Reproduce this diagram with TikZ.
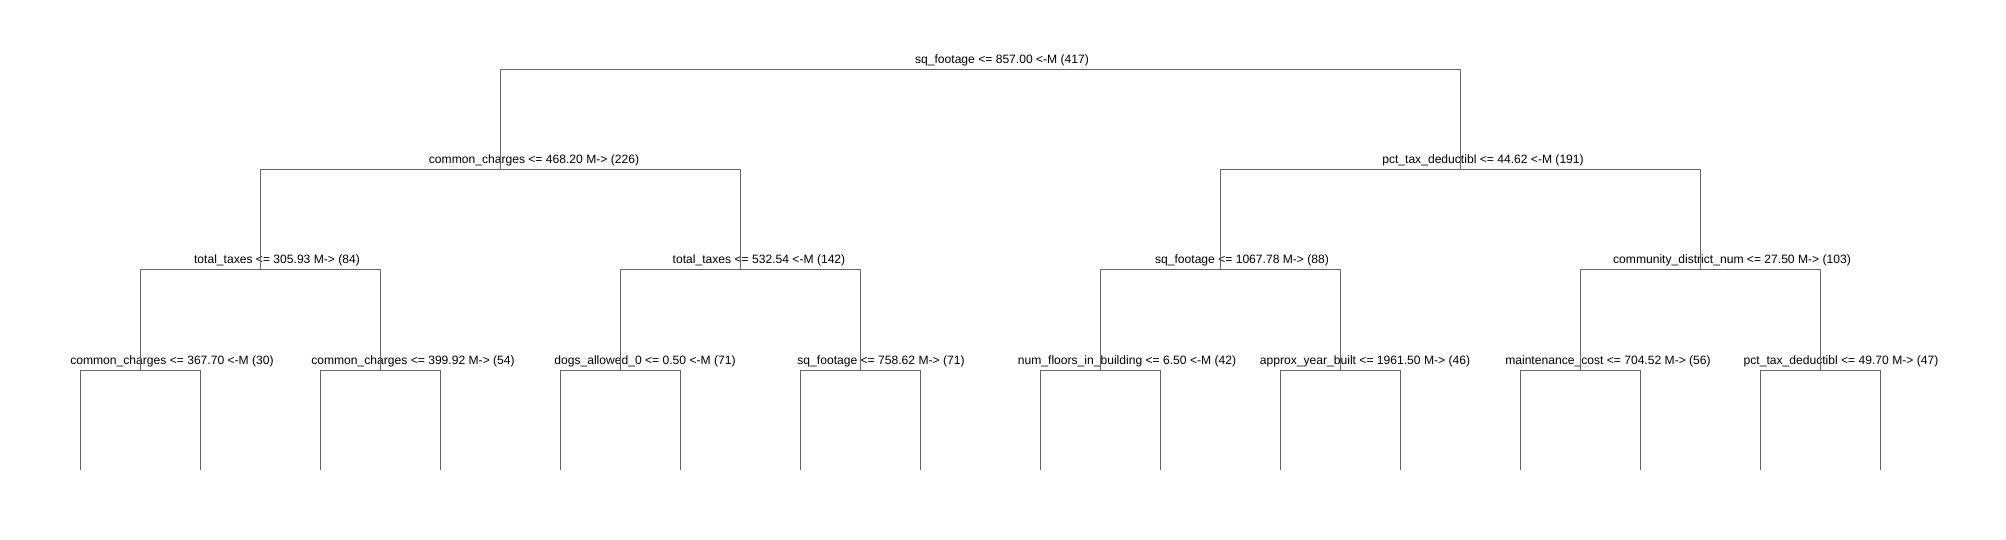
\documentclass[tikz,border=0pt]{standalone}
\usepackage{fontspec}
\setmainfont{Liberation Sans}
\usepackage{tikz}
\usetikzlibrary{positioning}

\tikzset{
  split/.style={anchor=base, inner sep=0pt, font=\fontsize{12.1}{14}\selectfont},
  branch/.style={draw=black!60, line width=1pt}
}

\begin{document}
\begin{tikzpicture}[x=1pt, y=-1pt]
    \useasboundingbox (0,0) rectangle (2006,540);

    % Split points
    \coordinate (r) at (980,70);
    \coordinate (a) at (500,170);
    \coordinate (b) at (1460,170);
    \coordinate (aa) at (260,270);
    \coordinate (ab) at (740,270);
    \coordinate (ba) at (1220,270);
    \coordinate (bb) at (1700,270);
    \coordinate (aaa) at (140,370);
    \coordinate (aab) at (380,370);
    \coordinate (aba) at (620,370);
    \coordinate (abb) at (860,370);
    \coordinate (baa) at (1100,370);
    \coordinate (bab) at (1340,370);
    \coordinate (bba) at (1580,370);
    \coordinate (bbb) at (1820,370);

    % Split labels
    \node[split] (r-lab) at (1002,64) {sq\_footage <= 857.00 <-M (417)};
    \node[split] (a-lab) at (534,164) {common\_charges <= 468.20 M-> (226)};
    \node[split] (b-lab) at (1483,164) {pct\_tax\_deductibl <= 44.62 <-M (191)};
    \node[split] (aa-lab) at (277,264) {total\_taxes <= 305.93 M-> (84)};
    \node[split] (ab-lab) at (759,264) {total\_taxes <= 532.54 <-M (142)};
    \node[split] (ba-lab) at (1242,264) {sq\_footage <= 1067.78 M-> (88)};
    \node[split] (bb-lab) at (1732,264) {community\_district\_num <= 27.50 M-> (103)};
    \node[split] (aaa-lab) at (172,364) {common\_charges <= 367.70 <-M (30)};
    \node[split] (aab-lab) at (413,364) {common\_charges <= 399.92 M-> (54)};
    \node[split] (aba-lab) at (645,364) {dogs\_allowed\_0 <= 0.50 <-M (71)};
    \node[split] (abb-lab) at (881,364) {sq\_footage <= 758.62 M-> (71)};
    \node[split] (baa-lab) at (1127,364) {num\_floors\_in\_building <= 6.50 <-M (42)};
    \node[split] (bab-lab) at (1365,364) {approx\_year\_built <= 1961.50 M-> (46)};
    \node[split] (bba-lab) at (1608,364) {maintenance\_cost <= 704.52 M-> (56)};
    \node[split] (bbb-lab) at (1841,364) {pct\_tax\_deductibl <= 49.70 M-> (47)};

    % Branches
    \draw[branch] (r) -| (a);
    \draw[branch] (r) -| (b);
    \draw[branch] (a) -| (aa);
    \draw[branch] (a) -| (ab);
    \draw[branch] (b) -| (ba);
    \draw[branch] (b) -| (bb);
    \draw[branch] (aa) -| (aaa);
    \draw[branch] (aa) -| (aab);
    \draw[branch] (ab) -| (aba);
    \draw[branch] (ab) -| (abb);
    \draw[branch] (ba) -| (baa);
    \draw[branch] (ba) -| (bab);
    \draw[branch] (bb) -| (bba);
    \draw[branch] (bb) -| (bbb);

    % Leaves
    \foreach \n/\x in {aaa/140, aab/380, aba/620, abb/860, baa/1100, bab/1340, bba/1580, bbb/1820} {
        \coordinate (\n-l) at (\x-60,470);
        \coordinate (\n-r) at (\x+60,470);
        \draw[branch] (\n) -| (\n-l);
        \draw[branch] (\n) -| (\n-r);
    }
\end{tikzpicture}
\end{document}
